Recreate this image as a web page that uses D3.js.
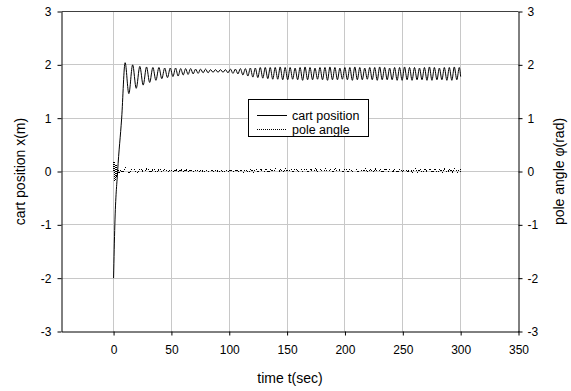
<!DOCTYPE html>
<html>
<head>
<meta charset="utf-8">
<script src="https://cdn.jsdelivr.net/npm/d3@7"></script>
<style>
  body { margin: 0; background: #fff; }
  text { font-family: "Liberation Sans", Arial, sans-serif; fill: #000; }
</style>
</head>
<body>
<div id="chart"></div>
<script>
// cart position x(m): [time, value] (start-up, then peaks/troughs)
var cartPosition = [
  [0,-2.00],[1.1,-1.00],[3.5,0.00],[7.0,1.00],[10.0,2.04],
  [13.2,1.46],[16.5,2.00],[19.6,1.56],[22.7,1.97],[25.6,1.62],[28.5,1.96],[31.2,1.67],
  [34.0,1.95],[36.6,1.71],[39.2,1.95],[41.7,1.74],[44.2,1.94],[46.6,1.76],[49.0,1.94],
  [51.3,1.78],[53.6,1.94],[55.8,1.79],[58.0,1.93],[60.2,1.81],[62.3,1.93],[64.4,1.82],
  [66.6,1.93],[68.8,1.83],[70.9,1.92],[73.1,1.84],[75.2,1.92],[77.4,1.85],[79.5,1.92],
  [81.7,1.85],[83.8,1.91],[86.0,1.86],[88.1,1.91],[90.3,1.86],[92.4,1.91],[94.6,1.86],
  [96.7,1.91],[98.9,1.85],[101.0,1.92],[103.2,1.84],[105.3,1.92],[107.5,1.83],[109.6,1.93],
  [111.8,1.81],[113.9,1.93],[116.1,1.79],[118.2,1.94],[120.4,1.77],[122.5,1.94],[124.7,1.76],
  [126.8,1.95],[129.0,1.75],[131.1,1.95],[133.3,1.74],[135.4,1.95],[137.6,1.73],[139.7,1.95],
  [141.9,1.73],[144.0,1.96],[146.2,1.72],[148.3,1.95],[150.5,1.72],[152.6,1.95],[154.8,1.73],
  [156.9,1.94],[159.1,1.72],[161.2,1.95],[163.4,1.71],[165.5,1.96],[167.7,1.72],[169.8,1.95],
  [172.0,1.72],[174.1,1.94],[176.3,1.73],[178.4,1.95],[180.6,1.72],[182.7,1.95],[184.9,1.71],
  [187.0,1.96],[189.2,1.72],[191.3,1.95],[193.5,1.72],[195.6,1.94],[197.8,1.73],[199.9,1.95],
  [202.1,1.72],[204.2,1.95],[206.4,1.71],[208.5,1.96],[210.7,1.72],[212.8,1.95],[215.0,1.72],
  [217.1,1.94],[219.3,1.73],[221.4,1.95],[223.6,1.72],[225.7,1.95],[227.9,1.71],[230.0,1.96],
  [232.2,1.72],[234.3,1.95],[236.5,1.72],[238.6,1.94],[240.8,1.72],[242.9,1.95],[245.1,1.71],
  [247.2,1.95],[249.4,1.71],[251.5,1.96],[253.7,1.72],[255.8,1.95],[258.0,1.71],[260.1,1.95],
  [262.3,1.72],[264.4,1.94],[266.6,1.72],[268.7,1.95],[270.9,1.71],[273.0,1.96],[275.2,1.71],
  [277.3,1.95],[279.5,1.72],[281.6,1.94],[283.8,1.72],[285.9,1.95],[288.1,1.71],[290.2,1.95],
  [292.4,1.71],[294.5,1.96],[296.7,1.72],[298.8,1.95],[300.0,1.78]
];

// pole angle phi(rad)
var poleAngle = [
  [0,0.00],[0.4,0.20],[1.2,-0.18],[2.0,0.13],[2.8,-0.10],[3.6,0.06],[4.5,-0.03],[6.0,0.02],
  [8.0,-0.01],[10.5,0.07],[13.8,-0.02],[17.0,0.06],[20.1,-0.02],[23.2,0.05],[26.1,-0.01],
  [29.0,0.05],[31.7,-0.01],[34.5,0.04],[37.1,-0.01],[39.7,0.04],[42.2,0.00],[44.7,0.04],
  [47.1,0.00],[49.5,0.03],[51.8,0.00],[54.1,0.03],[56.3,0.00],[58.5,0.03],[60.7,0.00],
  [62.8,0.03],[64.9,0.00],[67.1,0.03],[69.3,0.00],[71.4,0.02],[73.6,0.00],[75.7,0.02],
  [77.9,0.00],[80.0,0.02],[82.2,0.00],[84.3,0.02],[86.5,0.00],[88.6,0.02],[90.8,0.00],
  [92.9,0.02],[95.1,0.00],[97.2,0.02],[99.4,0.00],[101.5,0.03],[103.7,0.00],[105.8,0.03],
  [108.0,0.00],[110.1,0.03],[112.3,-0.01],[114.4,0.03],[116.6,-0.01],[118.7,0.04],[120.9,-0.01],
  [123.0,0.04],[125.2,-0.01],[127.3,0.04],[129.5,-0.01],[131.6,0.05],[133.8,-0.01],[135.9,0.04],
  [138.1,-0.01],[140.2,0.05],[142.4,-0.01],[144.5,0.04],[146.7,-0.01],[148.8,0.05],[151.0,-0.01],
  [153.1,0.04],[155.3,-0.01],[157.4,0.05],[159.6,-0.01],[161.7,0.04],[163.9,-0.01],[166.0,0.05],
  [168.2,-0.01],[170.3,0.04],[172.5,-0.01],[174.6,0.05],[176.8,-0.01],[178.9,0.04],[181.1,-0.01],
  [183.2,0.05],[185.4,-0.01],[187.5,0.04],[189.7,-0.01],[191.8,0.05],[194.0,-0.01],[196.1,0.04],
  [198.3,-0.01],[200.4,0.05],[202.6,-0.01],[204.7,0.04],[206.9,-0.01],[209.0,0.05],[211.2,-0.01],
  [213.3,0.04],[215.5,-0.01],[217.6,0.05],[219.8,-0.01],[221.9,0.04],[224.1,-0.01],[226.2,0.05],
  [228.4,-0.01],[230.5,0.04],[232.7,-0.01],[234.8,0.05],[237.0,-0.01],[239.1,0.04],[241.3,-0.01],
  [243.4,0.05],[245.6,-0.01],[247.7,0.04],[249.9,-0.01],[252.0,0.05],[254.2,-0.01],[256.3,0.04],
  [258.5,-0.01],[260.6,0.05],[262.8,-0.01],[264.9,0.04],[267.1,-0.01],[269.2,0.05],[271.4,-0.01],
  [273.5,0.04],[275.7,-0.01],[277.8,0.05],[280.0,-0.01],[282.1,0.04],[284.3,-0.01],[286.4,0.05],
  [288.6,-0.01],[290.7,0.04],[292.9,-0.01],[295.0,0.05],[297.2,-0.01],[299.3,0.04],[300.0,0.00]
];

var xTicks = [0, 50, 100, 150, 200, 250, 300, 350];
var yTicks = [-3, -2, -1, 0, 1, 2, 3];
var xDomain = [-45, 350];
var yDomain = [-3, 3];
var legendItems = [
  {label: "cart position", dash: null},
  {label: "pole angle", dash: "1,1"}
];

var W = 571, H = 391;
var pL = 61.5, pR = 518.5, pT = 11.5, pB = 331.5;

var svg = d3.select("#chart").append("svg")
    .attr("width", W)
    .attr("height", H);

var x = d3.scaleLinear().domain(xDomain).range([pL, pR]);
var y = d3.scaleLinear().domain(yDomain).range([pB, pT]);
var y2 = d3.scaleLinear().domain(yDomain).range([pB, pT]);

// grid
svg.append("g").selectAll("line")
    .data(xTicks.filter(d => d < xDomain[1]))
    .enter().append("line")
    .attr("x1", d => Math.floor(x(d)) + 0.5).attr("x2", d => Math.floor(x(d)) + 0.5)
    .attr("y1", pT).attr("y2", pB)
    .attr("stroke", "#c8c8c8").attr("stroke-width", 1);
svg.append("g").selectAll("line")
    .data(yTicks.filter(d => d > yDomain[0] && d < yDomain[1]))
    .enter().append("line")
    .attr("x1", pL).attr("x2", pR)
    .attr("y1", d => Math.floor(y(d)) + 0.5).attr("y2", d => Math.floor(y(d)) + 0.5)
    .attr("stroke", "#c8c8c8").attr("stroke-width", 1);

// top border
svg.append("line")
    .attr("x1", pL).attr("x2", pR).attr("y1", pT).attr("y2", pT)
    .attr("stroke", "#404040");

// axes
var fontSize = "12px";
var fmt = d => String(d);
var gx = svg.append("g")
    .attr("transform", "translate(0," + pB + ")")
    .call(d3.axisBottom(x).tickValues(xTicks).tickFormat(fmt).tickSizeInner(4).tickSizeOuter(0).tickPadding(10));
var gy = svg.append("g")
    .attr("transform", "translate(" + pL + ",0)")
    .call(d3.axisLeft(y).tickValues(yTicks).tickFormat(fmt).tickSizeInner(4).tickSizeOuter(0).tickPadding(6));
var gy2 = svg.append("g")
    .attr("transform", "translate(" + pR + ",0)")
    .call(d3.axisRight(y2).tickValues(yTicks).tickFormat(fmt).tickSizeInner(4).tickSizeOuter(0).tickPadding(5));
[gx, gy, gy2].forEach(g => {
    g.attr("font-family", null).attr("font-size", null);
    g.selectAll("text").style("font-size", fontSize);
    g.selectAll("path, line").attr("stroke", "#000");
});

// lines
var line = d3.line().curve(d3.curveMonotoneX).x(d => x(d[0])).y(d => y(d[1]));
svg.append("path")
    .datum(cartPosition)
    .attr("d", line)
    .attr("fill", "none")
    .attr("stroke", "#000")
    .attr("stroke-width", 1);
var line2 = d3.line().curve(d3.curveMonotoneX).x(d => x(d[0])).y(d => y2(d[1]));
svg.append("path")
    .datum(poleAngle)
    .attr("d", line2)
    .attr("fill", "none")
    .attr("stroke", "#000")
    .attr("stroke-width", 1)
    .attr("shape-rendering", "crispEdges")
    .attr("stroke-dasharray", "1,1");

// axis titles
svg.append("text")
    .attr("x", (pL + pR) / 2).attr("y", 383)
    .attr("text-anchor", "middle")
    .style("font-size", "14px")
    .text("time t(sec)");
svg.append("text")
    .attr("transform", "translate(25," + (pT + pB) / 2 + ") rotate(-90)")
    .attr("text-anchor", "middle")
    .style("font-size", "14px")
    .text("cart position x(m)");
svg.append("text")
    .attr("transform", "translate(564," + (pT + pB) / 2 + ") rotate(-90)")
    .attr("text-anchor", "middle")
    .style("font-size", "14px")
    .text("pole angle \u03c6(rad)");

// legend
var lg = svg.append("g").attr("transform", "translate(248,99)");
lg.append("rect")
    .attr("x", 0.5).attr("y", 0.5)
    .attr("width", 120).attr("height", 37)
    .attr("fill", "#fff").attr("stroke", "#000");
var li = lg.selectAll("g.item")
    .data(legendItems)
    .enter().append("g")
    .attr("transform", (d, i) => "translate(0," + (16 + i * 14) + ")");
li.append("line")
    .attr("x1", 9).attr("x2", 39).attr("y1", 0.5).attr("y2", 0.5)
    .attr("stroke", "#000")
    .attr("stroke-dasharray", d => d.dash);
li.append("text")
    .attr("x", 44).attr("y", 4.5)
    .style("font-size", "12.5px")
    .text(d => d.label);
</script>
</body>
</html>
